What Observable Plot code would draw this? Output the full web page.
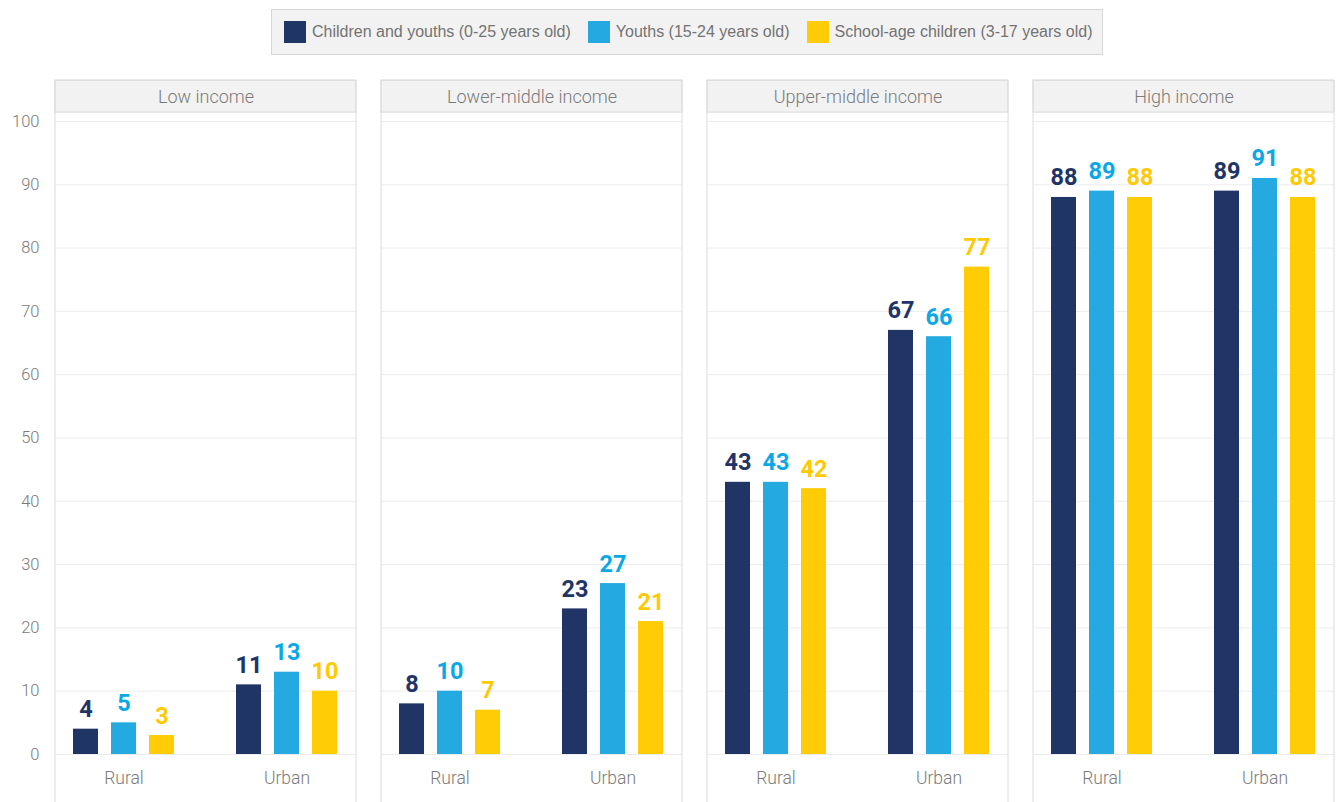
<!DOCTYPE html>
<html>
<head>
<meta charset="utf-8">
<script src="https://cdn.jsdelivr.net/npm/d3@7"></script>
<script src="https://cdn.jsdelivr.net/npm/@observablehq/plot@0.6"></script>
<style>
  html, body { margin: 0; padding: 0; background: #fff; }
  #wrap { position: relative; width: 1336px; height: 802px; overflow: hidden; }
  #legend { position: relative; height: 65px; }
  #legendBox {
    position: absolute; left: 271px; top: 9px; height: 44px; width: 830px;
    background: #f2f2f2; border: 1px solid #d6d6d6;
    display: flex; align-items: center; box-sizing: content-box;
    font-family: "Liberation Sans", Arial, sans-serif; font-size: 16px; color: #737373;
  }
  .item { display: flex; align-items: center; margin-left: 12px; margin-right: 5px; white-space: nowrap; }
  .sw { width: 22px; height: 22px; margin-right: 6px; }
  #chart svg { display: block; }
</style>
</head>
<body>
<div id="wrap">
  <div id="legend"><div id="legendBox"></div></div>
  <div id="chart"></div>
</div>
<script>
// ---- data ----
const incomes = ["Low income", "Lower-middle income", "Upper-middle income", "High income"];
const areas = ["Rural", "Urban"];
const seriesNames = [
  "Children and youths (0-25 years old)",
  "Youths (15-24 years old)",
  "School-age children (3-17 years old)"
];
// values ordered: income x area (Rural, Urban)
const childrenYouths = [4, 11, 8, 23, 43, 67, 88, 89];
const youths = [5, 13, 10, 27, 43, 66, 89, 91];
const schoolAge = [3, 10, 7, 21, 42, 77, 88, 88];
const yTicks = [0, 10, 20, 30, 40, 50, 60, 70, 80, 90, 100];

// ---- styles ----
const barColors = ["#213466", "#24a9e1", "#ffcc05"];
const labelColors = ["#213466", "#0aa8e6", "#ffc905"];
const softText = "#7a7a7a";

// ---- legend ----
const box = document.getElementById("legendBox");
seriesNames.forEach((name, i) => {
  const it = document.createElement("div");
  it.className = "item";
  const sw = document.createElement("div");
  sw.className = "sw";
  sw.style.background = barColors[i];
  const tx = document.createElement("span");
  tx.textContent = name;
  it.appendChild(sw); it.appendChild(tx);
  box.appendChild(it);
});

// ---- table ----
const seriesValues = [childrenYouths, youths, schoolAge];
const rows = [];
incomes.forEach((inc, ii) => {
  areas.forEach((ar, ai) => {
    seriesValues.forEach((vals, si) => {
      rows.push({income: inc, area: ar, series: seriesNames[si], s: si, value: vals[ii * 2 + ai]});
    });
  });
});

const headerTop = 106.45, headerBottom = 101.4, panelBottom = -9;
const insets = [[0, 76], [38, 38], [76, 0]];
const dxs = [-38, 0, 38];

const marks = [
  Plot.ruleY(yTicks, {stroke: "#ececec", strokeWidth: 1}),
  Plot.barY(incomes, {fx: d => d, y1: headerBottom, y2: headerTop, fill: "#f2f2f2", stroke: "#d9d9d9"}),
  Plot.barY(incomes, {fx: d => d, y1: panelBottom, y2: headerTop, fill: "none", stroke: "#dcdcdc"}),
  Plot.text(incomes, {fx: d => d, text: d => d, frameAnchor: "top", dy: -24.5, lineAnchor: "middle",
    fontSize: 18, fontWeight: 300, fill: softText}),
];
seriesNames.forEach((name, si) => {
  const data = rows.filter(r => r.s === si);
  marks.push(Plot.barY(data, {fx: "income", x: "area", y: "value", fill: barColors[si],
    insetLeft: insets[si][0], insetRight: insets[si][1]}));
  marks.push(Plot.text(data, {fx: "income", x: "area", y: "value", text: d => String(d.value),
    dx: dxs[si], dy: -12, lineAnchor: "bottom", fill: labelColors[si], fontSize: 23.5, fontWeight: "bold"}));
});
marks.push(Plot.axisY({ticks: yTicks, tickSize: 0, tickPadding: 16, fontSize: 16.5, fontWeight: 300, fill: softText, label: null}));
marks.push(Plot.axisX({tickSize: 0, tickPadding: 17, fontSize: 17.5, fontWeight: 300, fill: softText, label: null}));

const chart = Plot.plot({
  width: 1336,
  height: 737,
  marginLeft: 54,
  marginRight: 0,
  marginTop: 56,
  marginBottom: 48,
  style: {fontFamily: "Roboto, 'Noto Sans', sans-serif", background: "transparent", overflow: "visible"},
  fx: {domain: incomes, paddingInner: 0.0766, paddingOuter: 0, axis: null, label: null},
  x: {domain: areas, paddingInner: 0.378, paddingOuter: 0.107, axis: null},
  y: {domain: [0, 100], axis: null},
  marks
});
document.getElementById("chart").appendChild(chart);
</script>
</body>
</html>
